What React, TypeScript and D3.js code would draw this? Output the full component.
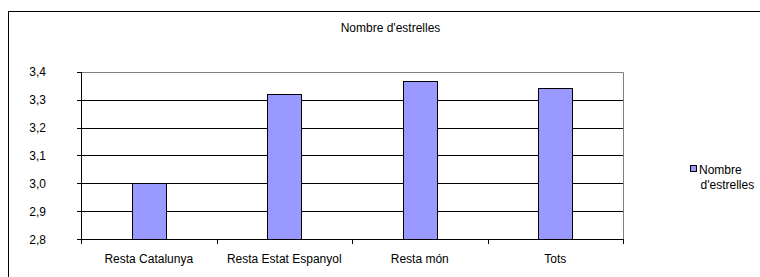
import { useRef, useEffect } from "react";
import * as d3 from "d3";

const title = "Nombre d'estrelles";
const categories = ["Resta Catalunya", "Resta Estat Espanyol", "Resta món", "Tots"];
const values = [3.0, 3.32, 3.367, 3.343];
const yTicks = [2.8, 2.9, 3.0, 3.1, 3.2, 3.3, 3.4];
const legendLines = ["Nombre", "d'estrelles"];

export default function App() {
  const svgRef = useRef<SVGSVGElement>(null);

  useEffect(() => {
    const svg = d3.select(svgRef.current);
    svg.selectAll("*").remove();
    const font = "'Liberation Sans', Arial, sans-serif";

    // plot area in page pixels
    const left = 81, right = 623, top = 71.7, bottom = 239.3;

    const x = d3.scaleBand<string>().domain(categories).range([left, right]).paddingInner(0).paddingOuter(0);
    const y = d3.scaleLinear().domain([2.8, 3.4]).range([bottom, top]);
    const barW = x.bandwidth() * 0.25;

    // outer chart frame (runs off the picture to the right and bottom)
    svg.append("rect")
      .attr("x", 8.5).attr("y", 11.5)
      .attr("width", 800).attr("height", 300)
      .attr("fill", "#fff").attr("stroke", "#000");

    svg.append("text")
      .attr("x", 390.5).attr("y", 32)
      .attr("text-anchor", "middle")
      .attr("font-family", font).attr("font-size", 12)
      .text(title);

    // grid lines
    svg.append("g").selectAll("line")
      .data(yTicks.slice(1, -1))
      .join("line")
      .attr("x1", left).attr("x2", right)
      .attr("y1", (d) => Math.round(y(d)) + 0.5)
      .attr("y2", (d) => Math.round(y(d)) + 0.5)
      .attr("stroke", "#000").attr("stroke-width", 1);

    // plot frame top/right (grey)
    svg.append("path")
      .attr("d", `M${left},${Math.round(top) + 0.5}H${right + 0.5}V${Math.round(bottom)}`)
      .attr("fill", "none").attr("stroke", "#808080");

    // bars
    svg.append("g").selectAll("rect")
      .data(values)
      .join("rect")
      .attr("x", (_, i) => Math.round(x(categories[i])! + x.bandwidth() / 2 - barW / 2) + 0.5)
      .attr("y", (d) => Math.round(y(d)) + 0.5)
      .attr("width", Math.round(barW))
      .attr("height", (d) => Math.round(bottom) - Math.round(y(d)))
      .attr("fill", "#9999ff").attr("stroke", "#000");

    // y axis
    const ya = svg.append("g");
    ya.append("line")
      .attr("x1", left + 0.5).attr("x2", left + 0.5)
      .attr("y1", Math.round(top)).attr("y2", Math.round(bottom) + 0.5)
      .attr("stroke", "#000");
    ya.selectAll("line.tick")
      .data(yTicks)
      .join("line")
      .attr("class", "tick")
      .attr("x1", left - 4).attr("x2", left)
      .attr("y1", (d) => Math.round(y(d)) + 0.5)
      .attr("y2", (d) => Math.round(y(d)) + 0.5)
      .attr("stroke", "#000");
    ya.selectAll("text")
      .data(yTicks)
      .join("text")
      .attr("x", 46).attr("y", (d) => y(d) + 4.3)
      .attr("text-anchor", "end")
      .attr("font-family", font).attr("font-size", 12)
      .text((d) => d3.format(".1f")(d).replace(".", ","));

    // x axis
    const xa = svg.append("g");
    xa.append("line")
      .attr("x1", left).attr("x2", right + 1)
      .attr("y1", Math.round(bottom) + 0.5).attr("y2", Math.round(bottom) + 0.5)
      .attr("stroke", "#000");
    const edges = [...categories.map((c) => x(c)!), right];
    xa.selectAll("line.tick")
      .data(edges)
      .join("line")
      .attr("class", "tick")
      .attr("x1", (d) => Math.round(d) + 0.5).attr("x2", (d) => Math.round(d) + 0.5)
      .attr("y1", Math.round(bottom)).attr("y2", Math.round(bottom) + 5)
      .attr("stroke", "#000");
    xa.selectAll("text")
      .data(categories)
      .join("text")
      .attr("x", (d) => x(d)! + x.bandwidth() / 2)
      .attr("y", 262.5)
      .attr("text-anchor", "middle")
      .attr("font-family", font).attr("font-size", 12)
      .text((d) => d);

    // legend
    const lg = svg.append("g");
    lg.append("rect")
      .attr("x", 690.5).attr("y", 165.5)
      .attr("width", 6).attr("height", 6)
      .attr("fill", "#9999ff").attr("stroke", "#000");
    lg.selectAll("text")
      .data(legendLines)
      .join("text")
      .attr("x", (_, i) => (i === 0 ? 699 : 700.5))
      .attr("y", (_, i) => 173.5 + i * 15)
      .attr("font-family", font).attr("font-size", 12)
      .text((d) => d);
  }, []);

  return (
    <svg
      ref={svgRef}
      width={760}
      height={277}
      style={{ position: "absolute", left: 0, top: 0, background: "#fff" }}
    />
  );
}
